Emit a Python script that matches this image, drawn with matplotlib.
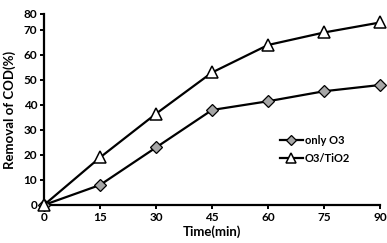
import matplotlib
matplotlib.use("Agg")
from matplotlib import pyplot as plt

# datos
tiempo = [0, 15, 30, 45, 60, 75, 90]
solo_o3 = [0, 8, 23, 38, 41.5, 45.5, 48]
o3_tio2 = [0, 19, 36.5, 53, 64, 69, 73]
etiquetas_y = ['0', '10', '20', '30', '40', '50', '60', '70', '80']

plt.rcParams['font.family'] = ['Lato', 'DejaVu Sans']
plt.rcParams['font.weight'] = 'bold'

fig = plt.figure(figsize=(3.87, 2.43), dpi=100)
ax = fig.add_axes([0.1137, 0.1564, 0.8683, 0.7860])

ax.plot(tiempo, solo_o3, color='black', lw=1.6, marker='D', ms=6,
        mfc='#a6a6a6', mec='black', mew=0.9, label='only O3', clip_on=False, zorder=3)
ax.plot(tiempo, o3_tio2, color='black', lw=1.6, marker='^', ms=8.5,
        mfc='white', mec='black', mew=1.1, label='O3/TiO2', clip_on=False, zorder=3)

# el eje de la imagen original termina un poco antes de 80
tope = 76.4
ax.set_xlim(0, 90)
ax.set_ylim(0, tope)
ax.set_xticks(tiempo)
ax.set_yticks(list(range(0, 80, 10)) + [tope])
ax.set_yticklabels(etiquetas_y)

for lado in ['top', 'right']:
    ax.spines[lado].set_visible(False)
for lado in ['left', 'bottom']:
    ax.spines[lado].set_linewidth(1.6)
ax.tick_params(axis='both', direction='out', length=3, width=1.4, labelsize=8.5, pad=2)

ax.set_xlabel('Time(min)', fontsize=9.5, fontweight='bold', labelpad=2)
ax.set_ylabel('Removal of COD(%)', fontsize=9.5, fontweight='bold', labelpad=5)

leg = ax.legend(loc='upper left', bbox_to_anchor=(0.685, 0.395), frameon=False, fontsize=8,
                handlelength=2.1, handletextpad=0.15, labelspacing=0.6, borderpad=0,
                markerscale=0.8)

plt.savefig('out.png', dpi=100)
